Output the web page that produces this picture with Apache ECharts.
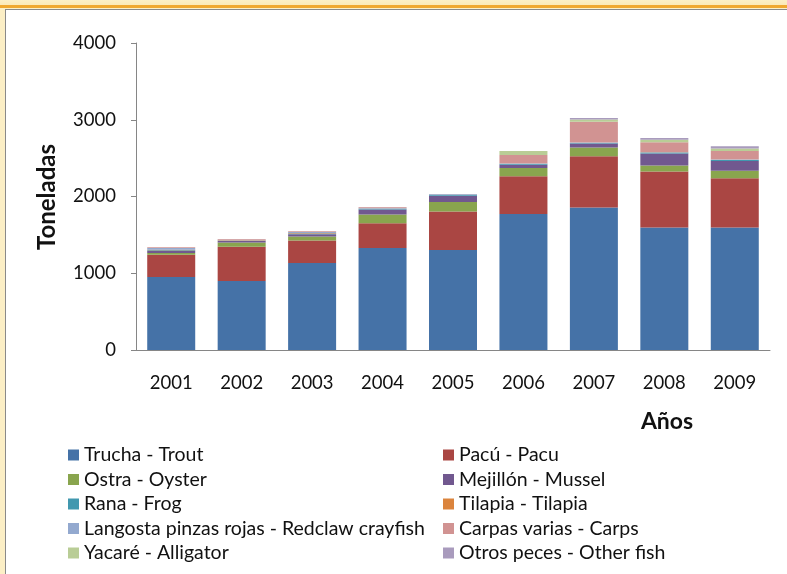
<!DOCTYPE html>
<html>
<head>
<meta charset="utf-8">
<script src="https://cdn.jsdelivr.net/npm/echarts@6/dist/echarts.min.js"></script>
<style>
	html, body { margin: 0; padding: 0; }
	body {
		width: 787px; height: 574px; overflow: hidden; position: relative;
		background: linear-gradient(180deg, #fcefc6 0px, #fbe9b8 5px, #f0a830 5px, #f0a830 8px, #fcefc6 8px);
	}
	#panel {
		position: absolute; left: 5px; top: 9px; width: 790px; height: 580px;
		background: #fff; border: 1px solid #8a8a8a;
	}
	#main { position: absolute; left: 0; top: 0; width: 787px; height: 574px; }
</style>
</head>
<body>
<div id="panel"></div>
<div id="main"></div>
<script>
var years = ['2001', '2002', '2003', '2004', '2005', '2006', '2007', '2008', '2009'];

// toneladas por especie
var trucha    = [950, 900, 1133, 1328, 1302, 1771, 1858, 1597, 1597];
var pacu      = [290, 445, 295, 322, 504, 494, 668, 729, 640];
var ostra     = [25, 55, 50, 117, 121, 105, 113, 78, 100];
var mejillon  = [25, 20, 30, 65, 82, 43, 52, 156, 125];
var rana      = [10, 5, 10, 10, 12, 10, 5, 12, 15];
var tilapia   = [5, 5, 5, 3, 3, 3, 3, 3, 3];
var langosta  = [25, 5, 15, 10, 10, 8, 8, 5, 5];
var carpas    = [10, 10, 10, 8, 0, 108, 268, 126, 108];
var yacare    = [0, 0, 0, 0, 0, 52, 28, 34, 32];
var otros     = [0, 0, 0, 0, 0, 0, 20, 22, 30];

var seriesDefs = [
	['Trucha - Trout', trucha, '#4572A7'],
	['Pacú - Pacu', pacu, '#AA4643'],
	['Ostra - Oyster', ostra, '#89A54E'],
	['Mejillón - Mussel', mejillon, '#71588F'],
	['Rana - Frog', rana, '#4198AF'],
	['Tilapia - Tilapia', tilapia, '#DB843D'],
	['Langosta pinzas rojas - Redclaw crayfish', langosta, '#93A9CF'],
	['Carpas varias - Carps', carpas, '#D19392'],
	['Yacaré - Alligator', yacare, '#B9CD96'],
	['Otros peces - Other fish', otros, '#A99BBD']
];

var font = 'Lato, "Open Sans", sans-serif';

var series = seriesDefs.map(function (d) {
	return {
		name: d[0],
		type: 'bar',
		stack: 'total',
		barWidth: 48,
		data: d[1],
		itemStyle: { color: d[2] }
	};
});

var legendText = { fontFamily: font, fontSize: 19.5, color: '#111', lineHeight: 20 };

var chart = echarts.init(document.getElementById('main'));
chart.setOption({
	animation: false,
	grid: { left: 136, top: 43, right: 17, bottom: 224 },
	legend: [
		{
			orient: 'vertical', left: 63, top: 440, itemWidth: 11, itemHeight: 11, itemGap: 4.5,
			icon: 'rect', textStyle: legendText,
			data: ['Trucha - Trout', 'Ostra - Oyster', 'Rana - Frog', 'Langosta pinzas rojas - Redclaw crayfish', 'Yacaré - Alligator']
		},
		{
			orient: 'vertical', left: 438, top: 440, itemWidth: 11, itemHeight: 11, itemGap: 4.5,
			icon: 'rect', textStyle: legendText,
			data: ['Pacú - Pacu', 'Mejillón - Mussel', 'Tilapia - Tilapia', 'Carpas varias - Carps', 'Otros peces - Other fish']
		}
	],
	xAxis: {
		type: 'category',
		data: years,
		axisLine: { lineStyle: { color: '#868686' } },
		axisTick: { show: false },
		axisLabel: { fontFamily: font, fontSize: 18.5, color: '#111', margin: 24 }
	},
	yAxis: {
		type: 'value',
		min: 0, max: 4000, interval: 1000,
		splitLine: { show: false },
		axisLine: { show: true, lineStyle: { color: '#868686' } },
		axisTick: { show: true, length: 5, lineStyle: { color: '#868686' } },
		axisLabel: {
			fontFamily: font, fontSize: 18.5, color: '#111', margin: 20,
			formatter: function (v) { return String(v); }
		}
	},
	graphic: [
		{
			type: 'text', x: 47, y: 197, rotation: Math.PI / 2,
			style: { text: 'Toneladas', font: 'bold 24px ' + font, fill: '#111', align: 'center', verticalAlign: 'middle' }
		},
		{
			type: 'text', x: 667, y: 422,
			style: { text: 'Años', font: 'bold 23px ' + font, fill: '#111', align: 'center', verticalAlign: 'middle' }
		}
	],
	series: series
});
</script>
</body>
</html>
